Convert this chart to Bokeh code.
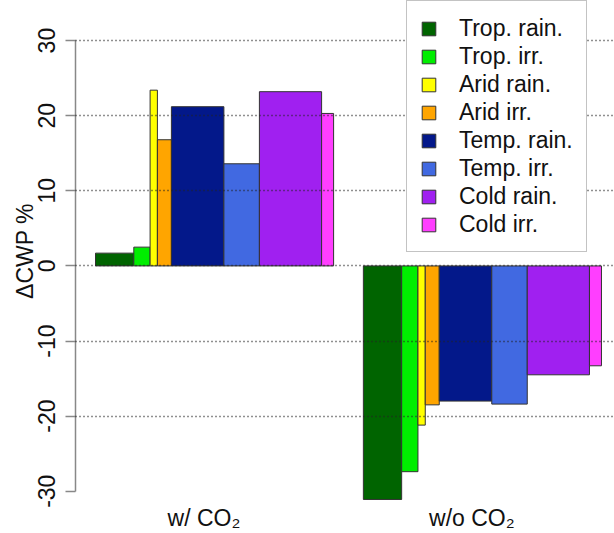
import numpy as np
from bokeh.plotting import figure
from bokeh.models import Range1d, FixedTicker, Legend, LegendItem
from bokeh.embed import file_html
from bokeh.resources import INLINE

# ---- data ----
groups = ["w/ CO\u2082", "w/o CO\u2082"]
categories = ["Trop. rain.", "Trop. irr.", "Arid rain.", "Arid irr.",
              "Temp. rain.", "Temp. irr.", "Cold rain.", "Cold irr."]
bar_widths = [38.3, 16.3, 7.3, 14.0, 52.5, 35.5, 62.2, 12.0]   # relative bar widths
with_co2 = [1.7, 2.5, 23.4, 16.8, 21.2, 13.6, 23.2, 20.3]
without_co2 = [-31.1, -27.4, -21.2, -18.5, -18.0, -18.4, -14.5, -13.3]
colors = ["#006400", "#00EE00", "#FFFF00", "#FFA500",
          "#03188A", "#4169E1", "#A020F0", "#FF3EFF"]
y_ticks = [-30, -20, -10, 0, 10, 20, 30]
y_tick_labels = ["-30", "-20", "-10", "0", "10", "20", "30"]
grid_ticks = [-20, -10, 0, 10, 20, 30]

FONT = "Liberation Sans"
FS = "23px"

# ---- layout of variable-width bars (barplot beside, space = mean width between groups) ----
w = np.array(bar_widths)
W = w.sum()
gap = w.mean()
offsets = np.concatenate([[0], np.cumsum(w)[:-1]])
centers = []
for g in range(2):
    left0 = gap + g * (W + gap)
    centers.append(left0 + offsets + w / 2)
label_x = [float(round(c.mean(), 3)) for c in centers]
values = [with_co2, without_co2]

x_start = gap - 20
p = figure(width=614, height=533, output_backend="svg", toolbar_location=None,
           x_range=Range1d(x_start, x_start + 539),
           y_range=Range1d(-31.37, 35.34),
           min_border_left=75, min_border_right=0, min_border_top=0,
           min_border_bottom=30)
p.outline_line_color = None
p.background_fill_color = "white"
p.border_fill_color = "white"

items = []
for i, cat in enumerate(categories):
    r = p.vbar(x=[centers[0][i], centers[1][i]], width=w[i],
               top=[values[0][i], values[1][i]], bottom=0,
               fill_color=colors[i], line_color="#333333", line_width=1)
    items.append(LegendItem(label=cat, renderers=[r]))

# grid (dotted, drawn over bars)
p.xgrid.visible = False
p.ygrid.ticker = FixedTicker(ticks=grid_ticks)
p.ygrid.grid_line_color = "#222222"
p.ygrid.grid_line_dash = "1 3"
p.ygrid.grid_line_width = 1.3
p.ygrid.level = "annotation"

# y axis
ya = p.yaxis[0]
ya.ticker = FixedTicker(ticks=y_ticks)
ya.major_label_overrides = {t: lab for t, lab in zip(y_ticks, y_tick_labels)}
ya.bounds = (min(y_ticks), max(y_ticks))
ya.minor_tick_line_color = None
ya.major_tick_out = 10
ya.major_tick_in = 0
ya.axis_line_color = "#888888"
ya.axis_line_width = 1.5
ya.major_tick_line_color = "#888888"
ya.major_tick_line_width = 1.5
ya.major_label_orientation = "vertical"
ya.major_label_text_font = FONT
ya.major_label_text_font_size = FS
ya.major_label_text_color = "#111111"
ya.major_label_standoff = 10
ya.axis_label = "\u0394CWP %"
ya.axis_label_text_font = FONT
ya.axis_label_text_font_size = FS
ya.axis_label_text_font_style = "normal"
ya.axis_label_text_color = "#111111"
ya.axis_label_standoff = -2

# x axis (group labels only)
xa = p.xaxis[0]
xa.ticker = FixedTicker(ticks=label_x)
xa.major_label_overrides = {x: g for x, g in zip(label_x, groups)}
xa.axis_line_color = None
xa.major_tick_line_color = None
xa.minor_tick_line_color = None
xa.major_tick_out = 0
xa.major_tick_in = 0
xa.major_label_standoff = 3
xa.major_label_text_font = FONT
xa.major_label_text_font_size = FS
xa.major_label_text_color = "#111111"

legend = Legend(items=items, location=(331, 249))
legend.padding = 13
legend.spacing = 0
legend.margin = 0
legend.label_height = 28
legend.glyph_height = 17
legend.glyph_width = 17
legend.label_standoff = 22
legend.label_width = 114
legend.border_line_color = "#888888"
legend.border_line_width = 1.5
legend.background_fill_color = "white"
legend.background_fill_alpha = 1.0
legend.label_text_font = FONT
legend.label_text_font_size = FS
legend.label_text_color = "#111111"
p.add_layout(legend)

open("out.html", "w").write(file_html(p, INLINE))
